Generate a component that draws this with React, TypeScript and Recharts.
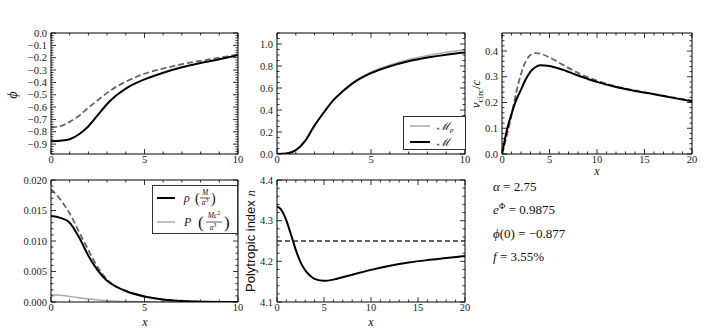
import React from 'react';
import { LineChart, Line, XAxis, YAxis } from 'recharts';

const W = 706;
const H = 335;
const SERIF = '"Liberation Serif", "DejaVu Serif", serif';

// top left: potential phi(x)
const phiX = [0, 0.5, 1, 1.5, 2, 2.5, 3, 3.5, 4, 5, 6, 7, 8, 9, 10];
const phiSolid = [-0.877, -0.872, -0.86, -0.82, -0.755, -0.665, -0.575, -0.505, -0.45, -0.376, -0.322, -0.278, -0.243, -0.212, -0.18];
const phiDashed = [-0.765, -0.755, -0.72, -0.67, -0.605, -0.545, -0.485, -0.435, -0.395, -0.33, -0.288, -0.253, -0.225, -0.2, -0.175];

// top middle: enclosed mass
const massX = [0, 0.5, 1, 1.5, 2, 2.5, 3, 3.5, 4, 5, 6, 7, 8, 9, 10];
const massM = [0, 0.004, 0.035, 0.12, 0.26, 0.38, 0.49, 0.57, 0.64, 0.735, 0.797, 0.843, 0.877, 0.903, 0.922];
const massMp = [0, 0.004, 0.035, 0.12, 0.26, 0.38, 0.49, 0.575, 0.645, 0.745, 0.81, 0.86, 0.895, 0.925, 0.948];

// top right: circular velocity
const vX = [0, 0.5, 1, 1.5, 2, 2.5, 3, 3.5, 4, 5, 6, 8, 10, 12, 14, 16, 18, 20];
const vSolid = [0, 0.09, 0.156, 0.21, 0.25, 0.29, 0.32, 0.337, 0.345, 0.342, 0.332, 0.305, 0.28, 0.26, 0.245, 0.232, 0.218, 0.205];
const vDashed = [0, 0.07, 0.15, 0.24, 0.31, 0.36, 0.385, 0.392, 0.39, 0.375, 0.355, 0.315, 0.285, 0.263, 0.247, 0.233, 0.22, 0.207];

// bottom left: density and pressure
const rhoX = [0, 0.5, 1, 1.5, 2, 2.5, 3, 3.5, 4, 5, 6, 7, 8, 10];
const rhoSolid = [0.0141, 0.0138, 0.013, 0.0106, 0.0076, 0.0052, 0.0035, 0.0025, 0.0018, 0.0009, 0.0004, 0.00015, 0.00005, 0];
const rhoDashed = [0.0185, 0.0168, 0.0145, 0.0115, 0.0085, 0.0057, 0.0037, 0.0025, 0.0018, 0.0009, 0.0004, 0.00015, 0.00005, 0];
const pressure = [0.0012, 0.0011, 0.0009, 0.0007, 0.0005, 0.00035, 0.00022, 0.00014, 0.00009, 0.00003, 0.00001, 0, 0, 0];

// bottom middle: polytropic index
const nX = [0, 0.5, 1, 1.5, 2, 2.5, 3, 3.5, 4, 5, 6, 7, 8, 10, 12, 14, 16, 18, 20];
const nSolid = [4.335, 4.325, 4.3, 4.265, 4.228, 4.198, 4.178, 4.165, 4.157, 4.152, 4.155, 4.161, 4.167, 4.179, 4.189, 4.197, 4.203, 4.208, 4.213];
const nConst = [4.25, 4.25, 4.25, 4.25, 4.25, 4.25, 4.25, 4.25, 4.25, 4.25, 4.25, 4.25, 4.25, 4.25, 4.25, 4.25, 4.25, 4.25, 4.25];

const x10Ticks = [0, 5, 10];
const x20Ticks = [0, 5, 10, 15, 20];
const phiTicks = [0, -0.1, -0.2, -0.3, -0.4, -0.5, -0.6, -0.7, -0.8, -0.9];
const massTicks = [0, 0.2, 0.4, 0.6, 0.8, 1.0];
const vTicks = [0, 0.1, 0.2, 0.3, 0.4];
const rhoTicks = [0, 0.005, 0.01, 0.015, 0.02];
const nTicks = [4.1, 4.2, 4.3, 4.4];

const steps = (a: number, b: number, s: number) => {
  const out: number[] = [];
  for (let v = a; v <= b + 1e-9; v += s) out.push(+v.toFixed(5));
  return out;
};

const isMajor = (majors: number[], v: number) => majors.some((m) => Math.abs(m - v) < 1e-7);

// draws inward tick marks (long for majors, short for minors) and the labels
function makeTick(side: 'bottom' | 'top' | 'left' | 'right', majors: number[], fmt?: (v: number) => string) {
  return (props: any) => {
    const { x, y, payload } = props;
    const v = payload.value as number;
    const major = isMajor(majors, v);
    const len = major ? 5 : 2.5;
    let x2 = x;
    let y2 = y;
    if (side === 'bottom') y2 = y - len;
    if (side === 'top') y2 = y + len;
    if (side === 'left') x2 = x + len;
    if (side === 'right') x2 = x - len;
    return (
      <g>
        <line x1={x} y1={y} x2={x2} y2={y2} stroke="#000" strokeWidth={0.8} />
        {major && fmt && side === 'bottom' && (
          <text x={x} y={y + 2} dy="0.71em" textAnchor="middle" fontSize={10.5} fill="#222" style={{ fontFamily: SERIF }}>{fmt(v)}</text>
        )}
        {major && fmt && side === 'left' && (
          <text x={x - 4} y={y} dy="0.34em" textAnchor="end" fontSize={10.5} fill="#222" style={{ fontFamily: SERIF }}>{fmt(v)}</text>
        )}
      </g>
    );
  };
}

function frameAxes(xDomain: number[], xMajor: number[], xAll: number[], yDomain: number[], yMajor: number[], yAll: number[], fmtY: (v: number) => string) {
  const common = {
    type: 'number' as const,
    allowDataOverflow: true,
    interval: 0 as const,
    tickSize: 0,
    tickMargin: 0,
    tickLine: false,
    axisLine: { stroke: '#000', strokeWidth: 1 },
  };
  const fmtX = (v: number) => String(v);
  return [
    <XAxis key="b" xAxisId="b" dataKey="x" orientation="bottom" {...common} domain={xDomain} ticks={xAll} height={1} tick={makeTick('bottom', xMajor, fmtX)} />,
    <XAxis key="t" xAxisId="t" dataKey="x" orientation="top" {...common} domain={xDomain} ticks={xAll} height={1} tick={makeTick('top', xMajor)} />,
    <YAxis key="l" yAxisId="l" orientation="left" {...common} domain={yDomain} ticks={yAll} width={1} tick={makeTick('left', yMajor, fmtY)} />,
    <YAxis key="r" yAxisId="r" orientation="right" {...common} domain={yDomain} ticks={yAll} width={1} tick={makeTick('right', yMajor)} />,
  ];
}

function Panel({ frame, data, axes, children }: { frame: number[]; data: any[]; axes: React.ReactNode; children: React.ReactNode }) {
  const [x1, y1, x2, y2] = frame;
  return (
    <div style={{ position: 'absolute', left: 0, top: 0 }}>
      <LineChart width={W} height={H} data={data} margin={{ left: x1 - 1, top: y1 - 1, right: W - x2 - 1, bottom: H - y2 - 1 }}>
        {axes}
        {children}
      </LineChart>
    </div>
  );
}

const line = { xAxisId: 'b', yAxisId: 'l', type: 'monotone' as const, dot: false, activeDot: false, isAnimationActive: false };
const fmt1 = (v: number) => (v < 0 ? '\u2212' + Math.abs(v).toFixed(1) : v.toFixed(1));
const fmt3 = (v: number) => v.toFixed(3);

export default function App() {
  const phiData = phiX.map((x, i) => ({ x, solid: phiSolid[i], dashed: phiDashed[i] }));
  const massData = massX.map((x, i) => ({ x, m: massM[i], mp: massMp[i] }));
  const vData = vX.map((x, i) => ({ x, solid: vSolid[i], dashed: vDashed[i] }));
  const rhoData = rhoX.map((x, i) => ({ x, solid: rhoSolid[i], dashed: rhoDashed[i], p: pressure[i] }));
  const nData = nX.map((x, i) => ({ x, solid: nSolid[i], dashed: nConst[i] }));

  return (
    <div style={{ position: 'absolute', left: 0, top: 0, width: W, height: H, background: '#fff', overflow: 'hidden' }}>
      <Panel frame={[51, 33, 238, 154]} data={phiData}
        axes={frameAxes([0, 10], x10Ticks, steps(0, 10, 1), [-0.98, 0], phiTicks, steps(-0.98, 0, 0.02), fmt1)}>
        <Line {...line} dataKey="dashed" stroke="#666" strokeWidth={1.8} strokeDasharray="6 3" />
        <Line {...line} dataKey="solid" stroke="#000" strokeWidth={2} />
      </Panel>
      <Panel frame={[277, 33, 465, 154]} data={massData}
        axes={frameAxes([0, 10], x10Ticks, steps(0, 10, 1), [0, 1.1], massTicks, steps(0, 1.1, 0.05), fmt1)}>
        <Line {...line} dataKey="mp" stroke="#aaa" strokeWidth={1.5} />
        <Line {...line} dataKey="m" stroke="#000" strokeWidth={2} />
      </Panel>
      <Panel frame={[502, 33, 692, 154]} data={vData}
        axes={frameAxes([0, 20], x20Ticks, steps(0, 20, 1), [0, 0.47], vTicks, steps(0, 0.46, 0.02), fmt1)}>
        <Line {...line} dataKey="dashed" stroke="#666" strokeWidth={1.8} strokeDasharray="6 3" />
        <Line {...line} dataKey="solid" stroke="#000" strokeWidth={2} />
      </Panel>
      <Panel frame={[51, 180, 238, 302]} data={rhoData}
        axes={frameAxes([0, 10], x10Ticks, steps(0, 10, 1), [0, 0.02], rhoTicks, steps(0, 0.02, 0.001), fmt3)}>
        <Line {...line} dataKey="dashed" stroke="#666" strokeWidth={1.8} strokeDasharray="6 3" />
        <Line {...line} dataKey="p" stroke="#aaa" strokeWidth={1.5} />
        <Line {...line} dataKey="solid" stroke="#000" strokeWidth={2} />
      </Panel>
      <Panel frame={[277, 180, 465, 302]} data={nData}
        axes={frameAxes([0, 20], x20Ticks, steps(0, 20, 1), [4.1, 4.4], nTicks, steps(4.1, 4.4, 0.02), fmt1)}>
        <Line {...line} dataKey="dashed" stroke="#333" strokeWidth={1.3} strokeDasharray="5 3" />
        <Line {...line} dataKey="solid" stroke="#000" strokeWidth={2} />
      </Panel>

      <svg width={W} height={H} style={{ position: 'absolute', left: 0, top: 0, pointerEvents: 'none', fontFamily: SERIF }} fill="#111">
        {/* axis labels */}
        <text transform="translate(17,95) rotate(-90)" textAnchor="middle" fontSize={14} fontStyle="italic">ϕ</text>
        <text transform="translate(480,94) rotate(-90)" textAnchor="middle" fontSize={13}>
          <tspan fontStyle="italic">v</tspan>
          <tspan fontSize={9} dy={2.5}>circ</tspan>
          <tspan dy={-2.5}>/</tspan>
          <tspan fontStyle="italic">c</tspan>
        </text>
        <text x={597} y={175} textAnchor="middle" fontSize={12} fontStyle="italic">x</text>
        <text x={145} y={326} textAnchor="middle" fontSize={12} fontStyle="italic">x</text>
        <text x={371} y={326} textAnchor="middle" fontSize={12} fontStyle="italic">x</text>
        <text transform="translate(255,241) rotate(-90)" textAnchor="middle" fontSize={13} style={{ fontFamily: '"Liberation Sans", Arial, sans-serif' }}>
          Polytropic index <tspan style={{ fontFamily: SERIF }} fontStyle="italic">n</tspan>
        </text>

        {/* mass legend */}
        <rect x={403.5} y={116.5} width={62} height={33} fill="#fff" stroke="#333" strokeWidth={1} />
        <line x1={410} x2={430} y1={126} y2={126} stroke="#aaa" strokeWidth={1.5} />
        <text x={437} y={130} fontSize={11} fontStyle="italic">ℳ<tspan fontSize={7} dy={2}>p</tspan></text>
        <line x1={410} x2={430} y1={142} y2={142} stroke="#000" strokeWidth={2} />
        <text x={437} y={146} fontSize={11} fontStyle="italic">ℳ</text>

        {/* density legend */}
        <rect x={152.5} y={185.5} width={85} height={48} fill="#fff" stroke="#333" strokeWidth={1} />
        <line x1={157} x2={175} y1={198} y2={198} stroke="#000" strokeWidth={2} />
        <text x={184} y={202} fontSize={12} fontStyle="italic">ρ</text>
        <text x={195} y={203} fontSize={14}>(</text>
        <text x={205} y={195} fontSize={7.5} fontStyle="italic" textAnchor="middle">M</text>
        <line x1={200} x2={210} y1={198} y2={198} stroke="#111" strokeWidth={0.7} />
        <text x={205} y={205} fontSize={7.5} fontStyle="italic" textAnchor="middle">a<tspan fontStyle="normal" fontSize={5.5} dy={-3}>3</tspan></text>
        <text x={211} y={203} fontSize={14}>)</text>

        <line x1={157} x2={175} y1={222} y2={222} stroke="#aaa" strokeWidth={1.5} />
        <text x={184} y={226} fontSize={12} fontStyle="italic">P</text>
        <text x={198} y={228} fontSize={17}>(</text>
        <text x={214} y={218} fontSize={7.5} fontStyle="italic" textAnchor="middle">Mc<tspan fontStyle="normal" fontSize={5.5} dy={-3}>2</tspan></text>
        <line x1={206} x2={222} y1={222} y2={222} stroke="#111" strokeWidth={0.7} />
        <text x={213} y={230} fontSize={7.5} fontStyle="italic" textAnchor="middle">a<tspan fontStyle="normal" fontSize={5.5} dy={-3}>3</tspan></text>
        <text x={224} y={228} fontSize={17}>)</text>

        {/* parameter notes */}
        <text x={493} y={191} fontSize={13}><tspan fontStyle="italic">α</tspan> = 2.75</text>
        <text x={493} y={214} fontSize={13}><tspan fontStyle="italic">e</tspan><tspan fontSize={9} dy={-5}>Φ</tspan><tspan dy={5}> = 0.9875</tspan></text>
        <text x={493} y={238} fontSize={13}><tspan fontStyle="italic">ϕ</tspan>(0) = −0.877</text>
        <text x={493} y={261} fontSize={13}><tspan fontStyle="italic">f</tspan> = 3.55%</text>
      </svg>
    </div>
  );
}
